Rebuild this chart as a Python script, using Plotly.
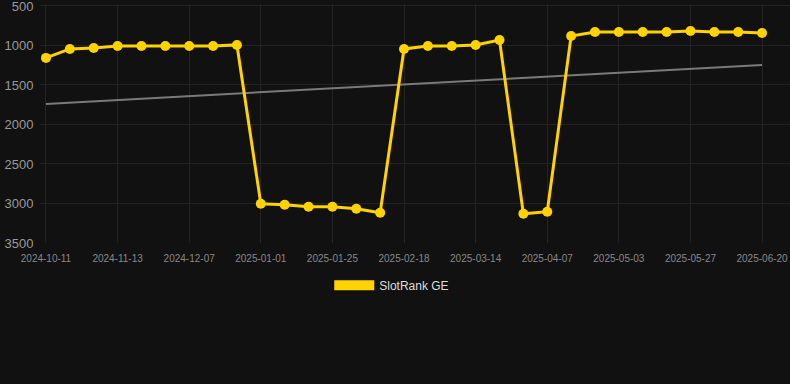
import plotly.graph_objects as go

dates = ["2024-10-11", "2024-10-22", "2024-11-02", "2024-11-13", "2024-11-21", "2024-11-29",
         "2024-12-07", "2024-12-15", "2024-12-23", "2025-01-01", "2025-01-09", "2025-01-17",
         "2025-01-25", "2025-02-02", "2025-02-10", "2025-02-18", "2025-02-26", "2025-03-06",
         "2025-03-14", "2025-03-22", "2025-03-30", "2025-04-07", "2025-04-15", "2025-04-24",
         "2025-05-03", "2025-05-11", "2025-05-19", "2025-05-27", "2025-06-04", "2025-06-12",
         "2025-06-20"]
rank = [1157, 1044, 1031, 1006, 1006, 1006, 1006, 1006, 993, 3003, 3016, 3041, 3041, 3066, 3117,
        1044, 1006, 1006, 993, 930, 3130, 3104, 880, 829, 829, 829, 829, 816, 829, 829, 841]
trend_x = [dates[0], dates[-1]]
trend_values = [1740, 1246]
tick_labels = dates[::3]
y_ticks = [500, 1000, 1500, 2000, 2500, 3000, 3500]

gold = "#FFD200"
bg = "#111111"
grid = "#232323"

fig = go.Figure()
fig.add_trace(go.Scatter(x=trend_x, y=trend_values, mode="lines",
                         line=dict(color="#7a7a7a", width=2), showlegend=False, hoverinfo="skip"))
fig.add_trace(go.Scatter(x=dates, y=rank, mode="lines+markers",
                         line=dict(color=gold, width=3),
                         marker=dict(color=gold, size=10),
                         showlegend=False))
fig.add_trace(go.Scatter(x=[None], y=[None], mode="lines",
                         line=dict(color=gold, width=11), name="SlotRank GE"))

fig.update_layout(
    width=790, height=384,
    paper_bgcolor=bg, plot_bgcolor=bg,
    margin=dict(l=40, r=0, t=4, b=141),
    font=dict(family="Liberation Sans, Arial, sans-serif", color="#999999"),
    showlegend=True,
    legend=dict(orientation="h", x=0.469, xanchor="center",
                y=-0.177, yanchor="middle",
                font=dict(size=12, color="#dddddd"), itemwidth=40,
                bgcolor="rgba(0,0,0,0)"),
    xaxis=dict(type="category", categoryorder="array", categoryarray=dates,
               range=[-0.25, 31.17],
               tickmode="array", tickvals=tick_labels, ticktext=tick_labels,
               tickfont=dict(size=10, color="#888888"),
               showgrid=True, gridcolor=grid, zeroline=False, showline=False,
               ticks="outside", ticklen=6, tickcolor=bg),
    yaxis=dict(range=[3500, 475], tickmode="array", tickvals=y_ticks,
               tickfont=dict(size=13, color="#999999"), ticklabeloverflow="allow",
               showgrid=True, gridcolor=grid, zeroline=False, showline=False,
               ticks="outside", ticklen=3, tickcolor=bg),
)

fig.write_html("out.html", config={"displayModeBar": False},
               post_script="document.body.style.margin='0';document.body.style.background='#111111';")
